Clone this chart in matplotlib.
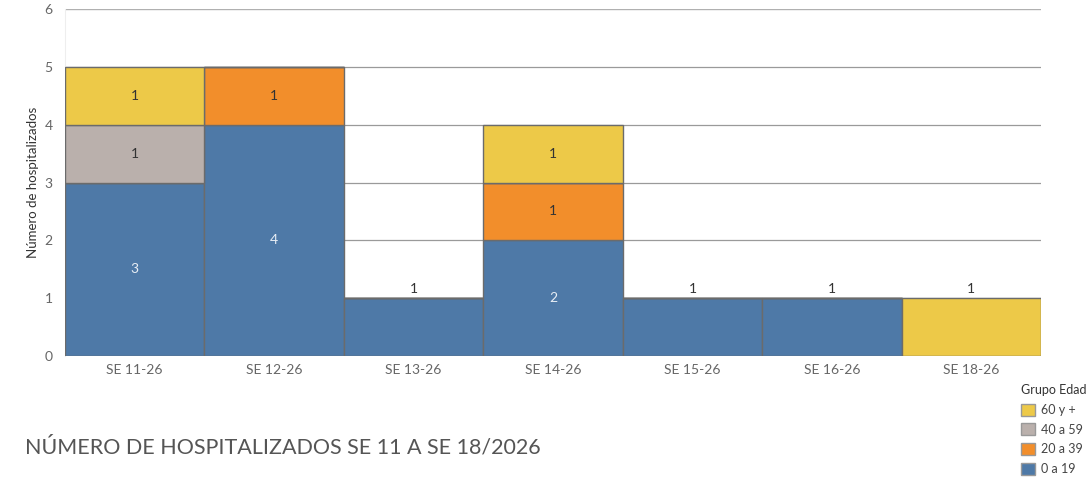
import matplotlib
matplotlib.use('Agg')
from matplotlib import pyplot as plt
from matplotlib.patches import Patch
import numpy as np

weeks = ['SE 11-26', 'SE 12-26', 'SE 13-26', 'SE 14-26', 'SE 15-26', 'SE 16-26', 'SE 18-26']
groups = ['0 a 19', '20 a 39', '40 a 59', '60 y +']
g_0_19 = [3, 4, 1, 2, 1, 1, 0]
g_20_39 = [0, 1, 0, 1, 0, 0, 0]
g_40_59 = [1, 0, 0, 0, 0, 0, 0]
g_60 = [1, 0, 0, 1, 0, 0, 1]
colors = ['#4e79a7', '#f28e2b', '#bab0ac', '#edc948']

plt.rcParams['font.family'] = ['Lato', 'DejaVu Sans']

fig = plt.figure(figsize=(10.88, 4.82), dpi=100)
ax = fig.add_axes([65 / 1088, 1 - 356 / 482, 976 / 1088, 347 / 482])

x = np.arange(len(weeks))
series = [g_0_19, g_20_39, g_40_59, g_60]
bottom = np.zeros(len(weeks))
totals = np.sum(series, axis=0)
for vals, col in zip(series, colors):
    vals = np.array(vals)
    ax.bar(x, vals, bottom=bottom, width=1.0, color=col, edgecolor='#6b6b6b', linewidth=1, zorder=3)
    for i, v in enumerate(vals):
        if v == 0:
            continue
        if totals[i] == 1:
            ax.text(i, bottom[i] + v + 0.05, str(v), ha='center', va='bottom', fontsize=10, color='#333333', zorder=4)
        else:
            tc = '#e8eef5' if col == '#4e79a7' else '#333333'
            ax.text(i, bottom[i] + v / 2, str(v), ha='center', va='center', fontsize=10, color=tc, zorder=4)
    bottom += vals

ax.set_xlim(-0.5, len(weeks) - 0.5)
ax.set_ylim(0, 6)
ax.set_yticks(range(0, 7))
ax.set_xticks(x)
ax.set_xticklabels(weeks)
ax.tick_params(axis='both', length=0, labelsize=10, labelcolor='#666666')
ax.tick_params(axis='x', pad=6)
ax.tick_params(axis='y', pad=9)
ax.grid(axis='y', color='#9a9a9a', linewidth=0.9, zorder=0)
for s in ['top', 'right', 'bottom']:
    ax.spines[s].set_visible(False)
ax.spines['left'].set_color('#eeeeee')
ax.axhline(6, color='#b0b0b0', linewidth=1.5, zorder=2)
ax.set_ylabel('Número de hospitalizados', fontsize=9.5, color='#333333', labelpad=4)

handles = [Patch(facecolor=c, edgecolor='#999999', label=g) for g, c in zip(groups, colors)][::-1]
leg = fig.legend(handles=handles, loc='upper left', bbox_to_anchor=(1016 / 1088, 1 - 379 / 482),
                 frameon=False, fontsize=9, title='Grupo Edad', title_fontsize=9,
                 handlelength=1.1, handleheight=1.1, handletextpad=0.5, labelspacing=0.6,
                 alignment='left', borderaxespad=0)
for t in leg.get_texts():
    t.set_color('#444444')
leg.get_title().set_color('#333333')

fig.text(25 / 1088, 1 - 447 / 482, 'NÚMERO DE HOSPITALIZADOS SE 11 A SE 18/2026', fontsize=15.5,
         color='#555555', va='center', ha='left')

fig.savefig('out.png', dpi=100)
